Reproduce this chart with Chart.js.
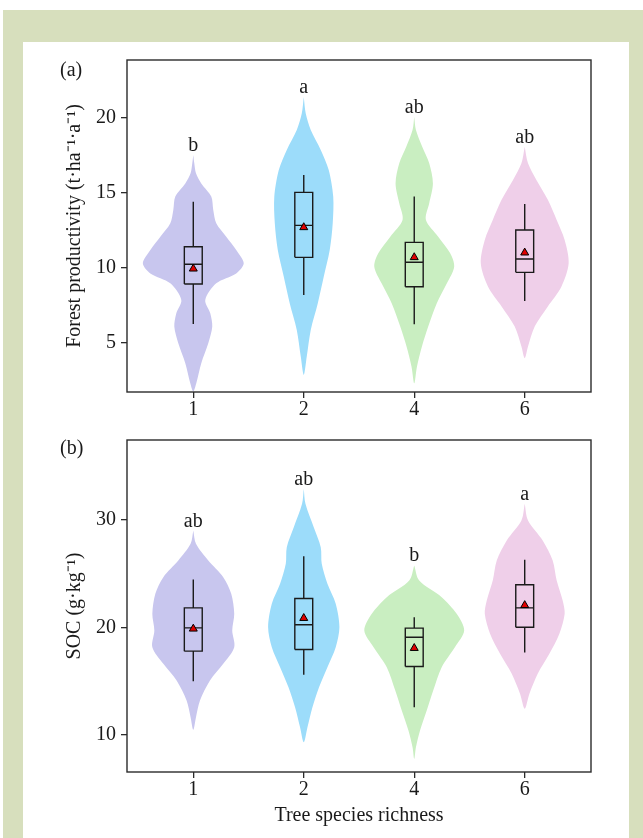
<!DOCTYPE html>
<html>
<head>
<meta charset="utf-8">
<script src="https://cdn.jsdelivr.net/npm/chart.js@4.4.1/dist/chart.umd.min.js"></script>
<style>
  html, body { margin: 0; padding: 0; background: #fff; }
  #page { position: relative; width: 643px; height: 838px; overflow: hidden; }
  #frame { position: absolute; left: 3px; top: 10px; width: 640px; height: 828px; background: #d7dfbd; }
  #panel { position: absolute; left: 23px; top: 42px; width: 606px; height: 796px; background: #fff; }
  canvas { position: absolute; left: 0; }
  #chartA { top: 0; }
  #chartB { top: 419px; }
</style>
</head>
<body>
<div id="page">
  <div id="frame"></div>
  <div id="panel"></div>
  <canvas id="chartA" width="643" height="419"></canvas>
  <canvas id="chartB" width="643" height="419"></canvas>
</div>
<script>
// Tree species richness groups
const CATEGORIES = ['1', '2', '4', '6'];
const COLORS = ['#c8c6ee', '#9cdcfa', '#c9eec1', '#efcfe9'];

// (a) Forest productivity
const PROD_TICKS = [5, 10, 15, 20];
const PROD_LETTERS = ['b', 'a', 'ab', 'ab'];
const PROD_LOWER  = [6.27, 8.2, 6.24, 7.8];
const PROD_Q1     = [8.93, 10.71, 8.75, 9.71];
const PROD_MEDIAN = [10.25, 12.84, 10.38, 10.6];
const PROD_Q3     = [11.42, 15.04, 11.71, 12.53];
const PROD_UPPER  = [14.42, 16.2, 14.76, 14.27];
const PROD_MEAN   = [9.95, 12.71, 10.71, 11.02];
// violin outline: value levels (top to bottom) and relative density at each level
const PROD_LEVELS = [
  [17.53, 16.98, 16.31, 15.64, 14.76, 13.87, 12.98, 12.09, 11.2, 10.31, 9.64, 8.98, 7.87, 6.98, 6.09, 4.98, 3.65, 2.31, 1.76],
  [21.4, 20.3, 19.2, 17.87, 16.53, 14.76, 12.98, 11.2, 9.42, 7.64, 5.87, 4.09, 2.87],
  [20.09, 19.2, 18.09, 16.98, 15.64, 14.31, 13.2, 12.09, 10.98, 10.09, 8.98, 7.64, 6.09, 4.76, 3.42, 2.31],
  [18.09, 16.98, 15.87, 14.53, 13.2, 11.87, 10.31, 8.75, 7.42, 6.09, 4.76, 3.98]
];
const PROD_DENSITY = [
  [0, 0.02, 0.054, 0.16, 0.36, 0.40, 0.46, 0.66, 0.86, 1.01, 0.86, 0.46, 0.24, 0.34, 0.38, 0.30, 0.16, 0.06, 0],
  [0, 0.04, 0.14, 0.34, 0.50, 0.59, 0.58, 0.52, 0.40, 0.28, 0.14, 0.06, 0],
  [0, 0.034, 0.16, 0.30, 0.374, 0.30, 0.234, 0.48, 0.72, 0.80, 0.654, 0.45, 0.28, 0.154, 0.054, 0],
  [0, 0.066, 0.234, 0.466, 0.64, 0.80, 0.88, 0.734, 0.46, 0.20, 0.066, 0]
];

// (b) SOC
const SOC_TICKS = [10, 20, 30];
const SOC_LETTERS = ['ab', 'ab', 'b', 'a'];
const SOC_LOWER  = [15.0, 15.6, 12.59, 17.67];
const SOC_Q1     = [17.8, 17.95, 16.37, 20.03];
const SOC_MEDIAN = [19.97, 20.25, 19.1, 21.83];
const SOC_Q3     = [21.83, 22.7, 19.94, 23.97];
const SOC_UPPER  = [24.47, 26.63, 20.96, 26.3];
const SOC_MEAN   = [19.88, 20.87, 18.08, 22.07];
const SOC_LEVELS = [
  [29.02, 27.78, 26.23, 24.68, 23.13, 21.27, 19.72, 18.17, 16.62, 15.07, 13.21, 11.66, 10.48],
  [32.9, 31.5, 29.33, 27.47, 25.92, 24.06, 22.2, 20.03, 18.17, 16.31, 14.45, 12.59, 10.73, 9.33],
  [25.77, 24.37, 22.82, 21.27, 19.72, 18.17, 16.31, 14.14, 12.28, 10.42, 8.87, 7.78],
  [31.5, 29.95, 28.09, 26.23, 24.37, 22.51, 21.27, 19.41, 17.55, 15.69, 13.83, 12.44]
];
const SOC_DENSITY = [
  [0, 0.054, 0.30, 0.60, 0.76, 0.82, 0.78, 0.82, 0.60, 0.334, 0.134, 0.054, 0],
  [0, 0.034, 0.20, 0.34, 0.36, 0.474, 0.64, 0.714, 0.64, 0.474, 0.306, 0.174, 0.074, 0],
  [0, 0.10, 0.55, 0.85, 1.0, 0.814, 0.55, 0.38, 0.25, 0.116, 0.034, 0],
  [0, 0.066, 0.36, 0.56, 0.64, 0.76, 0.80, 0.694, 0.494, 0.26, 0.094, 0]
];

const VIOLIN_SCALE = 0.452; // half width (category units) for density 1
const BOX_HALF = 0.081;
const FONT = '"Liberation Serif", "Times New Roman", serif';
const INK = '#1a1a1a';

function buildDatasets(s) {
  const datasets = [];
  CATEGORIES.forEach((c, i) => {
    const lv = s.levels[i], dn = s.density[i];
    const outline = [];
    for (let k = 0; k < lv.length; k++) outline.push({ x: i + dn[k] * VIOLIN_SCALE, y: lv[k] });
    for (let k = lv.length - 2; k >= 0; k--) outline.push({ x: i - dn[k] * VIOLIN_SCALE, y: lv[k] });
    datasets.push({
      type: 'line', data: outline, order: 3,
      backgroundColor: COLORS[i], borderWidth: 0, pointRadius: 0,
      fill: 'shape', tension: 0.3
    });

    const b = BOX_HALF;
    datasets.push({
      type: 'line', order: 2,
      data: [
        { x: i - b, y: s.q1[i] }, { x: i + b, y: s.q1[i] }, { x: i + b, y: s.q3[i] },
        { x: i - b, y: s.q3[i] }, { x: i - b, y: s.q1[i] },
        { x: i, y: null },
        { x: i - b, y: s.median[i] }, { x: i + b, y: s.median[i] },
        { x: i, y: null },
        { x: i, y: s.q3[i] }, { x: i, y: s.upper[i] },
        { x: i, y: null },
        { x: i, y: s.q1[i] }, { x: i, y: s.lower[i] }
      ],
      borderColor: INK, borderWidth: 1.4, borderJoinStyle: 'miter',
      pointRadius: 0, tension: 0, fill: false, spanGaps: false
    });
  });
  datasets.push({
    type: 'scatter', order: 1,
    data: s.mean.map((m, i) => ({ x: i, y: m })),
    pointStyle: 'triangle', pointRadius: 4.6,
    backgroundColor: '#e00000', borderColor: '#000', borderWidth: 1
  });
  return datasets;
}

function decorPlugin(s) {
  return {
    id: 'decor',
    afterDatasetsDraw(chart) {
      const { ctx, chartArea: a, scales: { x, y } } = chart;
      ctx.save();
      ctx.strokeStyle = '#2b2b2b';
      ctx.lineWidth = 1.4;
      ctx.strokeRect(a.left, a.top, a.right - a.left, a.bottom - a.top);
      ctx.fillStyle = INK;
      ctx.font = '20px ' + FONT;
      ctx.textAlign = 'center';
      ctx.textBaseline = 'alphabetic';
      s.letters.forEach((t, i) => {
        ctx.fillText(t, x.getPixelForValue(i), y.getPixelForValue(s.levels[i][0]) - 4);
      });
      ctx.textAlign = 'left';
      ctx.fillText(s.tag, 60, s.tagY);
      ctx.restore();
    }
  };
}

function makeChart(id, s) {
  const gridOpts = { drawOnChartArea: false, drawTicks: true, tickLength: 6, color: '#2b2b2b', lineWidth: 1.3 };
  return new Chart(document.getElementById(id), {
    type: 'line',
    data: { datasets: buildDatasets(s) },
    options: {
      responsive: false,
      animation: false,
      devicePixelRatio: 1,
      layout: { padding: { top: s.padTop, right: 52, left: 0, bottom: 0 } },
      plugins: { legend: { display: false }, tooltip: { enabled: false } },
      scales: {
        x: {
          type: 'linear', min: -0.6, max: 3.6,
          afterBuildTicks: sc => { sc.ticks = CATEGORIES.map((c, i) => ({ value: i })); },
          afterFit: sc => { sc.height = s.xHeight; },
          ticks: { callback: v => CATEGORIES[v], font: { family: FONT, size: 20 }, color: INK, padding: 0, maxRotation: 0, autoSkip: false },
          grid: gridOpts,
          border: { display: false },
          title: s.xTitle ? { display: true, text: s.xTitle, font: { family: FONT, size: 20 }, color: INK, padding: { top: 0, bottom: 10 } } : { display: false }
        },
        y: {
          type: 'linear', min: s.min, max: s.max,
          afterBuildTicks: sc => { sc.ticks = s.ticks.map(v => ({ value: v })); },
          afterFit: sc => { sc.width = 127; },
          ticks: { callback: v => String(v), font: { family: FONT, size: 20 }, color: INK, padding: 5 },
          grid: gridOpts,
          border: { display: false },
          title: { display: true, text: s.yTitle, font: { family: FONT, size: 20 }, color: INK, padding: { top: 63 } }
        }
      }
    },
    plugins: [decorPlugin(s)]
  });
}

makeChart('chartA', {
  levels: PROD_LEVELS, density: PROD_DENSITY,
  lower: PROD_LOWER, q1: PROD_Q1, median: PROD_MEDIAN, q3: PROD_Q3, upper: PROD_UPPER, mean: PROD_MEAN,
  letters: PROD_LETTERS, ticks: PROD_TICKS, min: 1.73, max: 23.87,
  yTitle: 'Forest productivity (t·ha⁻¹·a⁻¹)', xTitle: null,
  padTop: 60, xHeight: 27, tag: '(a)', tagY: 76
});

makeChart('chartB', {
  levels: SOC_LEVELS, density: SOC_DENSITY,
  lower: SOC_LOWER, q1: SOC_Q1, median: SOC_MEDIAN, q3: SOC_Q3, upper: SOC_UPPER, mean: SOC_MEAN,
  letters: SOC_LETTERS, ticks: SOC_TICKS, min: 6.56, max: 37.44,
  yTitle: 'SOC (g·kg⁻¹)', xTitle: 'Tree species richness',
  padTop: 21, xHeight: 66, tag: '(b)', tagY: 35
});
</script>
</body>
</html>
